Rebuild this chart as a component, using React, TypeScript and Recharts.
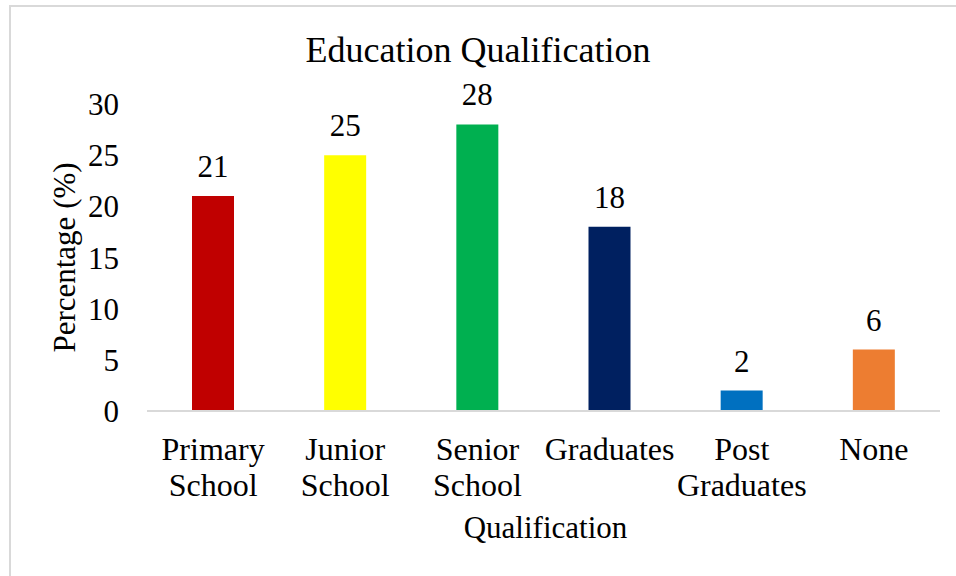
import { BarChart, Bar, XAxis, YAxis, Cell, LabelList } from "recharts";

const categories = ["Primary School", "Junior School", "Senior School", "Graduates", "Post Graduates", "None"];
const percentages = [21, 25, 28, 18, 2, 6];
const barColors = ["#C00000", "#FFFF00", "#00B050", "#002060", "#0070C0", "#ED7D31"];
const yTicks = [0, 5, 10, 15, 20, 25, 30];

const FONT = "'Liberation Serif', 'Times New Roman', serif";

const chartData = categories.map((name, i) => ({ name, value: percentages[i] }));

const CategoryTick = ({ x, y, payload }: any) => {
  const lines = String(payload.value).split(" ");
  return (
    <text x={x} y={y} textAnchor="middle" fill="#000" fontSize={32} style={{ fontFamily: FONT }}>
      {lines.map((line, i) => (
        <tspan key={i} x={x} dy={i === 0 ? 41 : 36}>
          {line}
        </tspan>
      ))}
    </text>
  );
};

const YTitle = ({ viewBox }: any) => {
  const cx = viewBox.x + 75;
  const cy = viewBox.y + viewBox.height / 2;
  return (
    <text x={cx} y={cy} transform={`rotate(-90 ${cx} ${cy})`} textAnchor="middle" fill="#000" fontSize={31} style={{ fontFamily: FONT }}>
      Percentage (%)
    </text>
  );
};

const XTitle = ({ viewBox }: any) => (
  <text x={viewBox.x + viewBox.width / 2 + 2} y={viewBox.y + 127} textAnchor="middle" fill="#000" fontSize={31} style={{ fontFamily: FONT }}>
    Qualification
  </text>
);

export default function App() {
  return (
    <div style={{ position: "absolute", left: 0, top: 0, width: 956, height: 576, background: "#fff", overflow: "hidden", fontFamily: FONT }}>
      <div
        style={{
          position: "absolute",
          left: 9,
          top: 5,
          width: 960,
          height: 600,
          border: "2px solid #d9d9d9",
          boxSizing: "border-box",
        }}
      />
      <div
        style={{
          position: "absolute",
          left: 0,
          top: 30,
          width: 956,
          textAlign: "center",
          fontFamily: FONT,
          fontSize: 36,
          lineHeight: "40px",
          color: "#000",
        }}
      >
        Education Qualification
      </div>
      <div style={{ position: "absolute", left: 0, top: 0 }}>
        <BarChart
          width={956}
          height={576}
          data={chartData}
          margin={{ top: 104, right: 16, left: 0, bottom: 0 }}
          style={{ fontFamily: FONT }}
        >
          <XAxis
            dataKey="name"
            height={165}
            interval={0}
            tickLine={false}
            axisLine={{ stroke: "#d9d9d9", strokeWidth: 2 }}
            tick={<CategoryTick />}
            label={<XTitle />}
          />
          <YAxis
            width={147}
            domain={[0, 30]}
            ticks={yTicks}
            axisLine={false}
            tickLine={false}
            tickMargin={22}
            tick={{ fill: "#000", fontSize: 31, style: { fontFamily: FONT } }}
            label={<YTitle />}
          />
          <Bar dataKey="value" barSize={42} isAnimationActive={false}>
            {chartData.map((d, i) => (
              <Cell key={d.name} fill={barColors[i]} />
            ))}
            <LabelList dataKey="value" position="top" offset={19} fill="#000" fontSize={31} style={{ fontFamily: FONT }} />
          </Bar>
        </BarChart>
      </div>
    </div>
  );
}
